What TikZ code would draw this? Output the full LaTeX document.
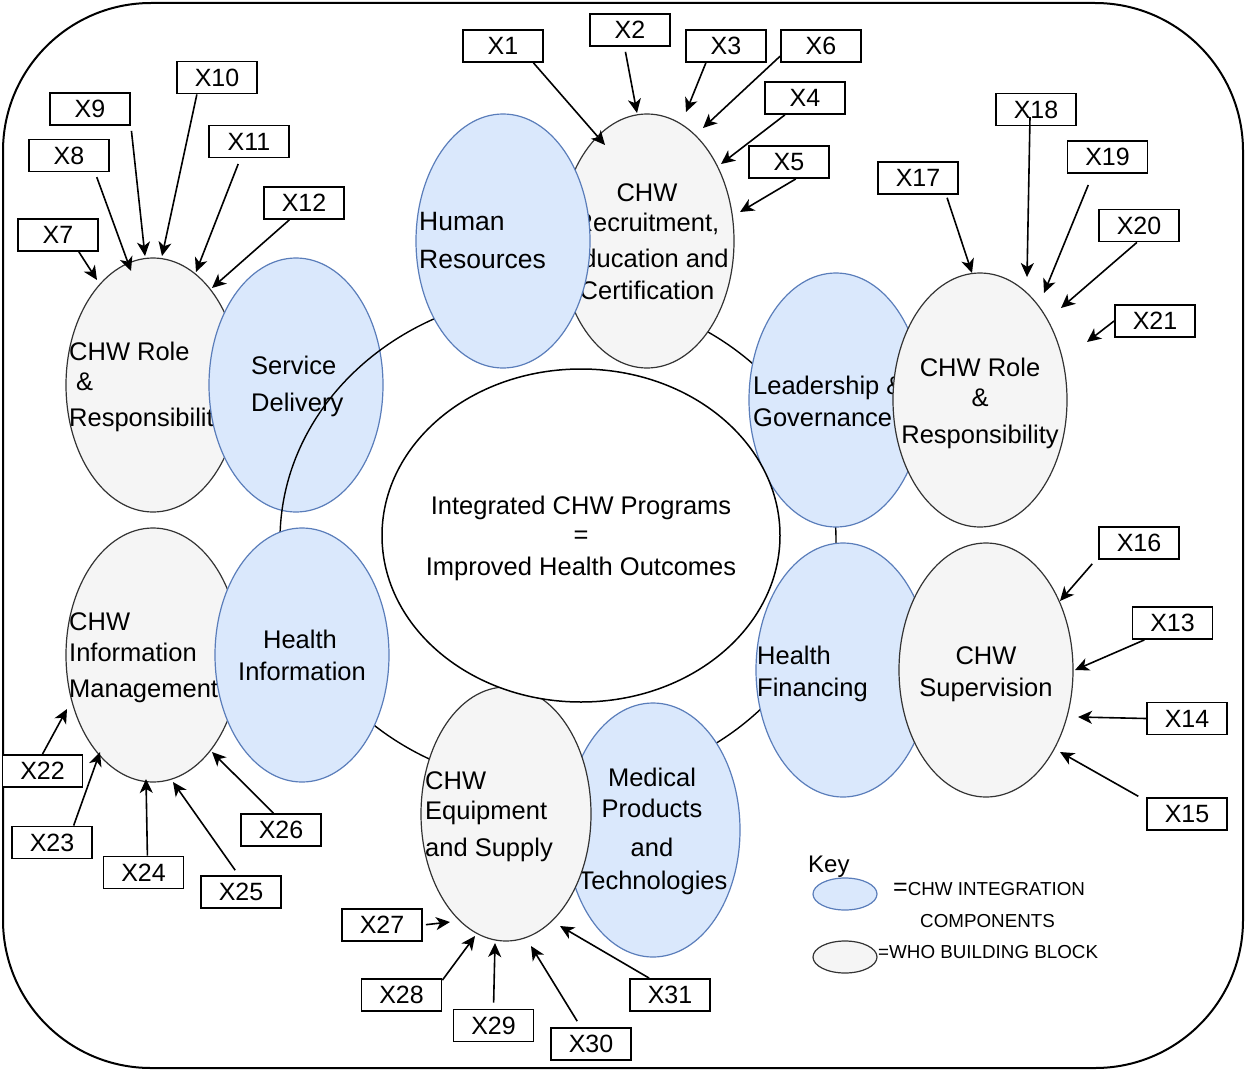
\documentclass[tikz,border=0pt]{standalone}
\usepackage{fontspec}
\setmainfont{Liberation Sans}
\usetikzlibrary{shapes.geometric, arrows.meta}
\definecolor{bluefill}{HTML}{DAE8FC}
\definecolor{blueline}{HTML}{5A7DBA}
\definecolor{grayfill}{HTML}{F5F5F5}
\definecolor{grayline}{HTML}{333333}
\begin{document}
\begin{tikzpicture}[x=1pt,y=-1pt,
 blueell/.style={ellipse, draw=blueline, fill=bluefill, line width=1.2pt, inner sep=0pt, minimum width=174pt, minimum height=254pt},
 grayell/.style={ellipse, draw=grayline, fill=grayfill, line width=1.2pt, inner sep=0pt, minimum width=174pt, minimum height=254pt},
 lbl/.style={font=\fontsize{25.5}{30}\selectfont, inner sep=0pt, text=black},
 lw/.style={lbl, anchor=base west},
 lc/.style={lbl, anchor=base},
 xbox/.style={draw, line width=1.8pt, fill=white, minimum width=80pt, minimum height=32pt, inner sep=0pt, font=\fontsize{25}{30}\selectfont},
 arr/.style={-{Stealth[length=14pt,width=13pt,inset=4pt]}, line width=1.6pt},
]
\useasboundingbox (0,0) rectangle (1247,1073);
\draw[line width=2pt, rounded corners=148pt] (3,3) rectangle (1243,1068);

% left pair
\node[grayell] (rolel) at (153,385) {};
\node[lw] (rolel1) at (69,360) {CHW Role};
\node[lw] (rolel2) at (76,390) {\&};
\node[lw] (rolel3) at (69,426) {Responsibility};
\node[blueell] (sd) at (296,385) {};
\node[lw] (sd1) at (251,374) {Service};
\node[lw] (sd2) at (251,411) {Delivery};

% ring
\node[ellipse, draw, line width=1.4pt, inner sep=0pt, minimum width=556pt, minimum height=494pt] (ring) at (558,540) {};

% top pair
\node[grayell] (rec) at (647,241) {};
\node[lc] (rec1) at (647,201) {CHW};
\node[lc] (rec2) at (647,231) {Recruitment,};
\node[lc] (rec3) at (647,267) {Education and};
\node[lc] (rec4) at (647,299) {Certification};
\node[blueell] (hr) at (503,241) {};
\node[lw, font=\fontsize{26.5}{30}\selectfont] (hr1) at (419,230) {Human};
\node[lw, font=\fontsize{26.5}{30}\selectfont] (hr2) at (419,268) {Resources};

% right pair
\node[blueell] (lg) at (836,400) {};
\node[lw] (lg1) at (753,394) {Leadership \&};
\node[lw] (lg2) at (753,426) {Governance};
\node[grayell] (roler) at (980,400) {};
\node[lc] (roler1) at (980,376) {CHW Role};
\node[lc] (roler2) at (980,406) {\&};
\node[lc] (roler3) at (980,443) {Responsibility};

% lower right pair
\node[blueell] (hf) at (843,670) {};
\node[lw] (hf1) at (757,664) {Health};
\node[lw] (hf2) at (757,696) {Financing};
\node[grayell] (sup) at (986,670) {};
\node[lc] (sup1) at (986,664) {CHW};
\node[lc] (sup2) at (986,696) {Supervision};

% lower left pair
\node[grayell] (im) at (153,655) {};
\node[lw] (im1) at (69,630) {CHW};
\node[lw] (im2) at (69,661) {Information};
\node[lw] (im3) at (69,697) {Management};
\node[blueell] (hi) at (302,655) {};
\node[lc] (hi1) at (300,648) {Health};
\node[lc] (hi2) at (302,680) {Information};

% bottom pair
\node[blueell] (mp) at (653,830) {};
\node[lc] (mp1) at (652,786) {Medical};
\node[lc] (mp2) at (652,817) {Products};
\node[lc] (mp3) at (652,856) {and};
\node[lc] (mp4) at (653,889) {Technologies};
\node[grayell, minimum width=170pt] (eq) at (506,814) {};
\node[lw] (eq1) at (425,789) {CHW};
\node[lw] (eq2) at (425,819) {Equipment};
\node[lw] (eq3) at (425,856) {and Supply};

% core
\node[ellipse, draw, fill=white, line width=1.5pt, inner sep=0pt, minimum width=398pt, minimum height=333pt] (core) at (581,535.5) {};
\node[lc] (core1) at (581,514) {Integrated CHW Programs};
\node[lc] (core2) at (581,543) {=};
\node[lc] (core3) at (581,575) {Improved Health Outcomes};

% boxes
\node[xbox] (x1) at (503,46) {X1};
\node[xbox] (x2) at (630,30) {X2};
\node[xbox] (x3) at (726,46) {X3};
\node[xbox] (x6) at (821,46) {X6};
\node[xbox] (x4) at (805,98) {X4};
\node[xbox] (x5) at (789,162) {X5};
\node[xbox] (x7) at (58,235) {X7};
\node[xbox] (x8) at (69,155.5) {X8};
\node[xbox] (x9) at (90,109) {X9};
\node[xbox] (x10) at (217,77.5) {X10};
\node[xbox] (x11) at (249,141.5) {X11};
\node[xbox] (x12) at (304,203) {X12};
\node[xbox] (x17) at (918,178) {X17};
\node[xbox] (x18) at (1036,109.5) {X18};
\node[xbox] (x19) at (1107.5,157) {X19};
\node[xbox] (x20) at (1139,225.5) {X20};
\node[xbox] (x21) at (1155,321) {X21};
\node[xbox] (x16) at (1139,543) {X16};
\node[xbox] (x13) at (1172.5,623) {X13};
\node[xbox] (x14) at (1187,718.5) {X14};
\node[xbox] (x15) at (1187,814) {X15};
\node[xbox] (x22) at (42.5,771) {X22};
\node[xbox] (x23) at (52,842.5) {X23};
\node[xbox] (x24) at (143.5,872.5) {X24};
\node[xbox] (x25) at (241,892) {X25};
\node[xbox] (x26) at (281,830) {X26};
\node[xbox] (x27) at (382,925) {X27};
\node[xbox] (x28) at (401.5,995) {X28};
\node[xbox] (x29) at (493.5,1025.5) {X29};
\node[xbox] (x30) at (591,1044) {X30};
\node[xbox] (x31) at (670,995) {X31};

% arrow tips
\coordinate (t1) at (605,145);
\coordinate (t2) at (637,113);
\coordinate (t3) at (686,112);
\coordinate (t6) at (703,128);
\coordinate (t4) at (721,164);
\coordinate (t5) at (740,212);
\coordinate (t7) at (97,280);
\coordinate (t8) at (131,271);
\coordinate (t9) at (145,256);
\coordinate (t10) at (162,256);
\coordinate (t11) at (196,272);
\coordinate (t12) at (212,288);
\coordinate (t17) at (972,273);
\coordinate (t18) at (1027,277);
\coordinate (t19) at (1044,293);
\coordinate (t20) at (1061,308);
\coordinate (t21) at (1087,342);
\coordinate (t16) at (1060,601);
\coordinate (t13) at (1075,670);
\coordinate (t14) at (1078,717);
\coordinate (t15) at (1060,752);
\coordinate (t22) at (67,709);
\coordinate (t23) at (100,752);
\coordinate (t24) at (146,779);
\coordinate (t25) at (173,782);
\coordinate (t26) at (212,752);
\coordinate (t27) at (450,922);
\coordinate (t28) at (475,936);
\coordinate (t29) at (495,943);
\coordinate (t30) at (531,946);
\coordinate (t31) at (560,926);

\draw[arr] (x1.-29) -- (t1);
\draw[arr, shorten <=5pt] (x2.-108) -- (t2);
\draw[arr] (x3.-140) -- (t3);
\draw[arr] (x6.-166) -- (t6);
\draw[arr] (x4.-140) -- (t4);
\draw[arr] (x5.-68) -- (t5);
\draw[arr] (x7.-39) -- (t7);
\draw[arr, shorten <=5pt] (x8.-33) -- (t8);
\draw[arr, shorten <=5pt] (x9.south east) -- (t9);
\draw[arr] (x10.-140) -- (t10);
\draw[arr, shorten <=6pt] (x11.-117) -- (t11);
\draw[arr] (x12.-131) -- (t12);
\draw[arr, shorten <=3pt] (x17.-31) -- (t17);
\draw[arr] ([xshift=-6pt,yshift=-7.5pt]x18.center) -- (t18);
\draw[arr, shorten <=12pt] (x19.-131) -- (t19);
\draw[arr] (x20.-97) -- (t20);
\draw[arr] (x21.west) -- (t21);
\draw[arr, shorten <=9pt] (x16.-161) -- (t16);
\draw[arr] (x13.-149) -- (t13);
\draw[arr] (x14.west) -- (t14);
\draw[arr, shorten <=9pt] (x15.162) -- (t15);
\draw[arr] (x22.north) -- (t22);
\draw[arr] (x23.38) -- (t23);
\draw[arr] (x24.77) -- (t24);
\draw[arr, shorten <=6pt] (x25.98) -- (t25);
\draw[arr] (x26.114) -- (t26);
\draw[arr, shorten <=3pt] (x27.east) -- (t27);
\draw[arr] (x28.20) -- (t28);
\draw[arr, shorten <=6pt] (x29.north) -- (t29);
\draw[arr, shorten <=7pt] (x30.121) -- (t30);
\draw[arr] (x31.141) -- (t31);

% key
\node[lw, font=\fontsize{24}{28}\selectfont] (key) at (808,872) {Key};
\node[ellipse, draw=blueline, fill=bluefill, line width=1.2pt, inner sep=0pt, minimum width=64pt, minimum height=32pt] (kb) at (845,894) {};
\node[ellipse, draw=grayline, fill=grayfill, line width=1.2pt, inner sep=0pt, minimum width=64pt, minimum height=32pt] (kg) at (845,957) {};
\node[lw, font=\fontsize{18.8}{22}\selectfont] (k1) at (893,895) {{\fontsize{25}{25}\selectfont=}CHW INTEGRATION};
\node[lw, font=\fontsize{18.8}{22}\selectfont] (k2) at (920,927) {COMPONENTS};
\node[lw, font=\fontsize{18.8}{22}\selectfont] (k3) at (878,958) {=WHO BUILDING BLOCK};
\end{tikzpicture}
\end{document}
